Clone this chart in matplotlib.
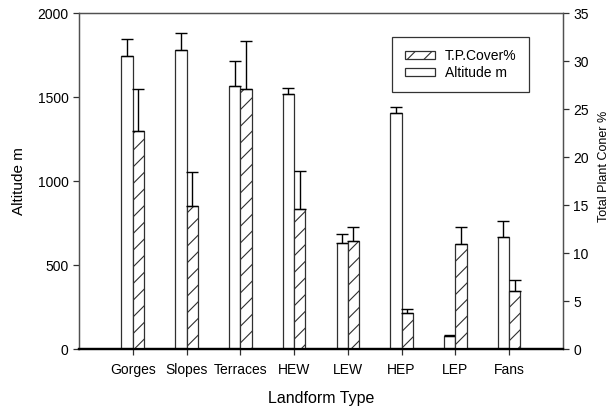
import numpy as np
import matplotlib.pyplot as plt

plt.rcParams.update({
    'font.family': 'Liberation Sans',
    'font.size': 10,
    'hatch.linewidth': 0.8,
})

# ========== DATA ==========
landforms = ['Gorges', 'Slopes', 'Terraces', 'HEW', 'LEW', 'HEP', 'LEP', 'Fans']
altitude = [1744, 1780, 1565, 1518, 633, 1407, 79, 668]
altitude_top = [1847, 1879, 1714, 1556, 685, 1439, 84, 760]
cover = [22.7, 14.9, 27.1, 14.6, 11.2, 3.7, 10.9, 6.0]
cover_top = [27.1, 18.4, 32.1, 18.5, 12.7, 4.2, 12.7, 7.2]

# ========== PLOT ==========
fig = plt.figure(figsize=(6.14, 4.07), dpi=100)
ax1 = fig.add_axes([0.1287, 0.1425, 0.788, 0.8255])
ax2 = ax1.twinx()

x = np.arange(1, len(landforms) + 1)
w = 0.21
edge = '#303030'

ax1.bar(x - w / 2, altitude, w, color='white', edgecolor=edge, lw=0.9,
        label='Altitude m', zorder=2)
alt_err = np.array(altitude_top) - np.array(altitude)
ax1.errorbar(x - w / 2, altitude, yerr=[np.zeros(len(x)), alt_err],
             fmt='none', ecolor='black', elinewidth=1, capsize=4,
             capthick=1, zorder=3)

ax2.bar(x + w / 2, cover, w, color='white', edgecolor=edge, lw=0.9,
        hatch='//', label='T.P.Cover%', zorder=2)
cov_err = np.array(cover_top) - np.array(cover)
ax2.errorbar(x + w / 2, cover, yerr=[np.zeros(len(x)), cov_err],
             fmt='none', ecolor='black', elinewidth=1, capsize=4,
             capthick=1, zorder=3)

ax1.set_xlim(0, 9)
ax1.set_ylim(0, 2000)
ax2.set_ylim(0, 35)
ax1.set_xticks(x)
ax1.set_xticklabels(landforms)
ax1.set_yticks([0, 500, 1000, 1500, 2000])
ax2.set_yticks(np.arange(0, 36, 5))

for ax in (ax1, ax2):
    for s in ax.spines.values():
        s.set_color('#505050')
        s.set_linewidth(0.9)
    ax.spines['bottom'].set_color('black')
    ax.spines['bottom'].set_linewidth(1.6)
    ax.tick_params(direction='out', length=4, width=0.9, color='#303030',
                   labelsize=10)
ax1.tick_params(axis='x', pad=6)

ax1.set_xlabel('Landform Type', fontsize=11.5, labelpad=10)
ax1.set_ylabel('Altitude m', fontsize=11, labelpad=8)
ax2.set_ylabel('Total Plant Coner %', fontsize=9, labelpad=8)
ax2.yaxis.set_label_coords(1.072, 0.545)

h2, l2 = ax2.get_legend_handles_labels()
h1, l1 = ax1.get_legend_handles_labels()
leg = ax2.legend(h2 + h1, l2 + l1, loc='upper left',
                 bbox_to_anchor=(0.647, 0.93), fontsize=10,
                 frameon=True, fancybox=False, edgecolor='black',
                 handlelength=2.2, handleheight=0.55, borderpad=0.9,
                 labelspacing=0.2, handletextpad=0.7, borderaxespad=0)
leg.get_frame().set_linewidth(0.9)

plt.savefig('out.png', dpi=100)
